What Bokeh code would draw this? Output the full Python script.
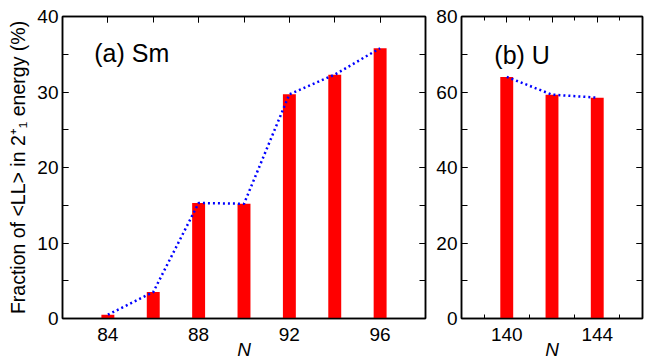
from bokeh.plotting import figure
from bokeh.layouts import row
from bokeh.models import (Range1d, LinearAxis, SingleIntervalTicker, FixedTicker, Label)
from bokeh.embed import file_html
from bokeh.resources import INLINE

# ---- data ----
sm_N = [84, 86, 88, 90, 92, 94, 96]
sm_frac = [0.5, 3.5, 15.3, 15.2, 29.7, 32.3, 35.8]
u_N = [140, 142, 144]
u_frac = [64.0, 59.3, 58.5]

FONT = "Liberation Sans"
TICK_FS = "19px"
BAR_W = 0.57


def style_axis(ax, labels=True, major_len=6, minor_len=6, standoff=4):
    ax.axis_line_color = "black"
    ax.axis_line_width = 1.5
    ax.major_tick_in = major_len
    ax.major_tick_out = 0
    ax.minor_tick_in = minor_len
    ax.minor_tick_out = 0
    ax.major_tick_line_color = "black"
    ax.minor_tick_line_color = "black"
    ax.major_tick_line_width = 1
    ax.minor_tick_line_width = 1
    ax.major_label_text_font = FONT
    ax.major_label_text_color = "black"
    ax.axis_label_text_color = "black"
    if labels:
        ax.major_label_text_font_size = TICK_FS
        ax.major_label_standoff = standoff
    else:
        ax.major_label_text_font_size = "1px"
        ax.major_label_text_alpha = 0
        ax.major_label_standoff = 0


def make_panel(width, border_left, xr, yr, x_ticker_bottom, x_ticker_top, y_ticker,
               xs, ys, ylabel=None, bottom_major=0, bottom_minor=0, top_major=6, top_minor=6,
               overrides=None):
    p = figure(width=width, height=364, output_backend="svg", toolbar_location=None,
               x_range=Range1d(*xr), y_range=Range1d(*yr),
               x_axis_location=None, y_axis_location=None,
               min_border_left=border_left, min_border_right=2,
               min_border_top=16, min_border_bottom=46)
    p.grid.visible = False
    p.outline_line_color = "black"
    p.outline_line_width = 1.5
    p.background_fill_color = "white"
    p.border_fill_color = "white"

    p.vbar(x=xs, top=ys, width=BAR_W, bottom=0, fill_color="#ff0000", line_color=None)
    p.line(xs, ys, line_color="#0000ff", line_width=2.5, line_dash="2 3")

    bx = LinearAxis(ticker=x_ticker_bottom)
    style_axis(bx, labels=True, major_len=bottom_major, minor_len=bottom_minor, standoff=9)
    if overrides:
        bx.major_label_overrides = overrides
    bx.axis_label = "N"
    bx.axis_label_text_font = FONT
    bx.axis_label_text_font_style = "italic"
    bx.axis_label_text_font_size = "19px"
    bx.axis_label_standoff = -5
    p.add_layout(bx, "below")

    tx = LinearAxis(ticker=x_ticker_top)
    style_axis(tx, labels=False, major_len=top_major, minor_len=top_minor)
    p.add_layout(tx, "above")

    ly = LinearAxis(ticker=y_ticker)
    style_axis(ly, labels=True)
    if ylabel:
        ly.axis_label = ylabel
        ly.axis_label_text_font = FONT
        ly.axis_label_text_font_style = "normal"
        ly.axis_label_text_font_size = "19.5px"
        ly.axis_label_standoff = 5
    p.add_layout(ly, "left")

    ry = LinearAxis(ticker=y_ticker)
    style_axis(ry, labels=False)
    p.add_layout(ry, "right")
    return p


p1 = make_panel(427, 62, (82, 98), (0, 40),
                SingleIntervalTicker(interval=4, num_minor_ticks=2),
                SingleIntervalTicker(interval=4, num_minor_ticks=2),
                SingleIntervalTicker(interval=10, num_minor_ticks=2),
                sm_N, sm_frac,
                ylabel="Fraction of <LL> in 2\u207A\u2081 energy (%)")
p1.add_layout(Label(x=83.4, y=35.1, text="(a) Sm", text_font=FONT,
                    text_font_size="25px", text_color="black",
                    text_baseline="alphabetic"))

u_ticker_b = FixedTicker(ticks=[140, 142, 144], minor_ticks=[139, 141, 143, 145])
u_ticker_t = FixedTicker(ticks=[140, 142, 144], minor_ticks=[139, 141, 143, 145])
p2 = make_panel(217, 34, (138, 146), (0, 80),
                u_ticker_b, u_ticker_t,
                SingleIntervalTicker(interval=20, num_minor_ticks=2),
                u_N, u_frac,
                bottom_major=0, bottom_minor=4, top_major=6, top_minor=4,
                overrides={142: ""})
p2.add_layout(Label(x=139.45, y=69.9, text="(b) U", text_font=FONT,
                    text_font_size="25px", text_color="black",
                    text_baseline="alphabetic"))

layout = row(p1, p2)
open("out.html", "w").write(file_html(layout, INLINE))
